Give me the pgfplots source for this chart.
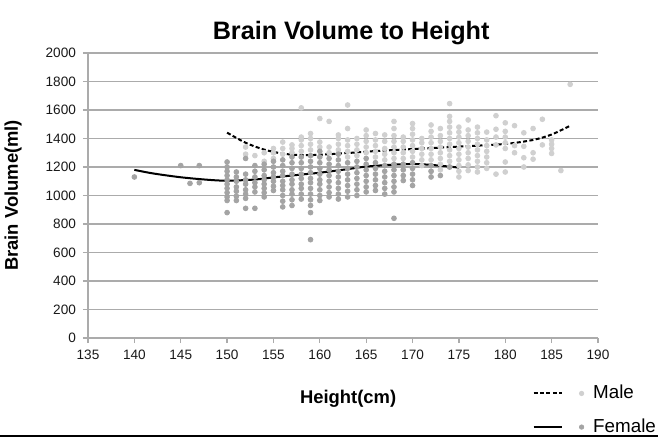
\documentclass[border=0pt]{standalone}
\usepackage{pgfplots}
\pgfplotsset{compat=1.18}
\usepackage{fontspec}
\setmainfont{Liberation Sans}

\definecolor{femgray}{HTML}{A4A4A4}
\definecolor{malegray}{HTML}{D0D0D0}
\definecolor{gridgray}{HTML}{ABABAB}

\begin{document}
\begin{tikzpicture}[x=0.5pt,y=0.5pt]
\useasboundingbox (-88,-101) rectangle (570,338);
\begin{axis}[
    at={(0,0)}, anchor=origin,
    scale only axis,
    width=255pt, height=142.5pt,
    xmin=135, xmax=190, ymin=0, ymax=2000,
    xtick={135,140,...,190},
    ytick={0,200,...,2000},
    axis lines*=left,
    axis line style={gridgray, line width=0.6pt},
    tick style={gridgray, line width=0.6pt},
    tick align=outside,
    major tick length=2.5pt,
    ymajorgrids,
    grid style={gridgray, line width=0.9pt},
    /pgf/number format/assume math mode=true,
    /pgf/number format/set thousands separator={},
    tick label style={font=\fontsize{6.8}{7.5}\selectfont, black!90},
    title={\textbf{Brain Volume to Height}},
    title style={font=\fontsize{12.6}{14}\selectfont, at={(axis description cs:0.516,1)}, anchor=south, yshift=-5.5pt},
    xlabel={\textbf{Height(cm)}},
    xlabel style={font=\fontsize{9.2}{11}\selectfont, at={(axis description cs:0.51,0)}, anchor=center, yshift=-30.5pt},
    ylabel={\textbf{Brain Volume(ml)}},
    every axis y label/.style={font=\fontsize{9.2}{11}\selectfont, at={(axis description cs:0,0.5)}, xshift=-37.5pt, rotate=90, anchor=center},
    legend style={draw=none, fill=none, at={(axis description cs:0.871,-0.15)}, anchor=north west,
        font=\fontsize{9.4}{11}\selectfont, row sep=4.5pt, inner sep=0pt,
        nodes={inner xsep=4.5pt}},
    legend cell align=left,
]

% Male data (light grey)
\addplot[only marks, mark=*, color=malegray, mark size=1.2pt,
  legend image code/.code={
    \draw[black, line width=1pt, dash pattern=on 2pt off 1.2pt] (0pt,0pt) -- (14pt,0pt);
    \fill[malegray] (24pt,0pt) circle (1.1pt);}]
coordinates {
(152,1290)(152,1340)(153,1280)(154,1240)(154,1300)
(155,1260)(155,1300)(155,1330)(156,1290)(156,1330)(156,1375)
(157,1300)(157,1330)(157,1355)(158,1310)(158,1350)(158,1390)(158,1410)(158,1615)
(159,1320)(159,1360)(159,1400)(159,1435)(160,1340)(160,1375)(160,1540)
(161,1300)(161,1340)(161,1520)(162,1320)(162,1360)(162,1400)(162,1425)
(163,1270)(163,1310)(163,1350)(163,1390)(163,1470)(163,1635)
(164,1280)(164,1320)(164,1360)(164,1400)
(165,1300)(165,1340)(165,1380)(165,1420)(165,1460)
(166,1270)(166,1310)(166,1350)(166,1390)(166,1435)
(167,1250)(167,1290)(167,1330)(167,1380)(167,1425)
(168,1260)(168,1300)(168,1340)(168,1380)(168,1420)(168,1470)(168,1520)
(169,1260)(169,1300)(169,1340)(169,1380)(169,1410)
(170,1270)(170,1310)(170,1350)(170,1390)(170,1430)(170,1470)(170,1505)
(171,1210)(171,1250)(171,1290)(171,1330)(171,1370)(171,1400)
(172,1170)(172,1250)(172,1290)(172,1330)(172,1370)(172,1410)(172,1450)(172,1495)
(173,1180)(173,1220)(173,1260)(173,1300)(173,1340)(173,1380)(173,1420)(173,1470)
(174,1200)(174,1240)(174,1280)(174,1320)(174,1360)(174,1400)(174,1440)(174,1480)(174,1520)(174,1555)(174,1645)
(175,1130)(175,1170)(175,1210)(175,1250)(175,1290)(175,1330)(175,1370)(175,1410)(175,1445)(175,1480)
(176,1175)(176,1215)(176,1260)(176,1300)(176,1340)(176,1380)(176,1420)(176,1460)(176,1530)
(177,1165)(177,1200)(177,1240)(177,1280)(177,1320)(177,1360)(177,1400)(177,1440)(177,1480)
(178,1190)(178,1230)(178,1270)(178,1310)(178,1350)(178,1390)(178,1445)
(179,1150)(179,1355)(179,1410)(179,1465)(179,1560)
(180,1165)(180,1235)(180,1330)(180,1370)(180,1410)(180,1450)(180,1510)
(181,1300)(181,1350)(181,1490)(182,1200)(182,1265)(182,1345)(182,1440)
(183,1255)(183,1300)(183,1470)(184,1355)(184,1535)
(185,1295)(185,1330)(185,1360)(185,1390)(186,1175)(187,1780)
};
\addlegendentry{Male}

% Female data (darker grey)
\addplot[only marks, mark=*, color=femgray, mark size=1.2pt,
  legend image code/.code={
    \draw[black, line width=1pt] (0pt,0pt) -- (14pt,0pt);
    \fill[femgray] (24pt,0pt) circle (1.1pt);}]
coordinates {
(140,1130)(145,1210)(146,1085)(147,1090)(147,1210)
(150,880)(150,965)(150,990)(150,1020)(150,1050)(150,1080)(150,1110)(150,1140)(150,1170)(150,1200)(150,1235)
(151,965)(151,995)(151,1030)(151,1060)(151,1100)(151,1130)(151,1165)
(152,910)(152,980)(152,1010)(152,1040)(152,1080)(152,1110)(152,1150)(152,1260)
(153,910)(153,1025)(153,1060)(153,1090)(153,1130)(153,1170)(153,1210)
(154,990)(154,1020)(154,1050)(154,1080)(154,1110)(154,1140)(154,1180)(154,1220)
(155,1035)(155,1065)(155,1100)(155,1130)(155,1160)(155,1200)(155,1240)
(156,920)(156,960)(156,1000)(156,1040)(156,1070)(156,1100)(156,1140)(156,1170)(156,1210)(156,1250)
(157,930)(157,970)(157,1010)(157,1040)(157,1080)(157,1110)(157,1150)(157,1190)(157,1230)(157,1270)
(158,975)(158,1010)(158,1050)(158,1080)(158,1120)(158,1150)(158,1190)(158,1230)(158,1270)
(159,690)(159,880)(159,930)(159,970)(159,1010)(159,1050)(159,1090)(159,1120)(159,1160)(159,1200)(159,1240)(159,1280)
(160,965)(160,1000)(160,1040)(160,1080)(160,1110)(160,1150)(160,1190)(160,1230)(160,1270)(160,1310)
(161,990)(161,1020)(161,1060)(161,1100)(161,1140)(161,1180)(161,1220)(161,1260)
(162,975)(162,1010)(162,1050)(162,1090)(162,1130)(162,1170)(162,1210)(162,1250)(162,1290)
(163,990)(163,1030)(163,1070)(163,1110)(163,1150)(163,1190)(163,1230)
(164,1000)(164,1040)(164,1080)(164,1120)(164,1160)(164,1200)(164,1240)
(165,1025)(165,1060)(165,1100)(165,1140)(165,1180)(165,1220)(165,1260)
(166,1035)(166,1070)(166,1110)(166,1150)(166,1190)(166,1230)
(167,1010)(167,1050)(167,1090)(167,1130)(167,1170)(167,1210)
(168,840)(168,1025)(168,1060)(168,1100)(168,1140)(168,1180)(168,1220)
(169,1105)(169,1140)(169,1180)(169,1220)
(170,1070)(170,1110)(170,1150)(170,1190)(170,1230)
(172,1130)(172,1170)(172,1210)(173,1140)(174,1200)
};
\addlegendentry{Female}

% Male trend (dashed)
\addplot[black, line width=1pt, dash pattern=on 2pt off 1.2pt, smooth, forget plot] coordinates {
(150,1441)(152,1370)(154,1322)(156,1294)(158,1283)(160,1286)(163,1298)(166,1312)
(170,1326)(175,1343)(180,1362)(183,1390)(185,1428)(187,1490)
};

% Female trend (solid)
\addplot[black, line width=1pt, smooth, forget plot] coordinates {
(140,1180)(142,1155)(145,1128)(148,1110)(150,1104)(153,1112)(155,1127)(158,1147)
(160,1160)(163,1185)(165,1203)(168,1217)(170,1221)(172,1215)(175,1196)
};

\end{axis}
\draw[black, line width=1.2pt] (-88,-98) -- (570,-98);
\end{tikzpicture}
\end{document}
